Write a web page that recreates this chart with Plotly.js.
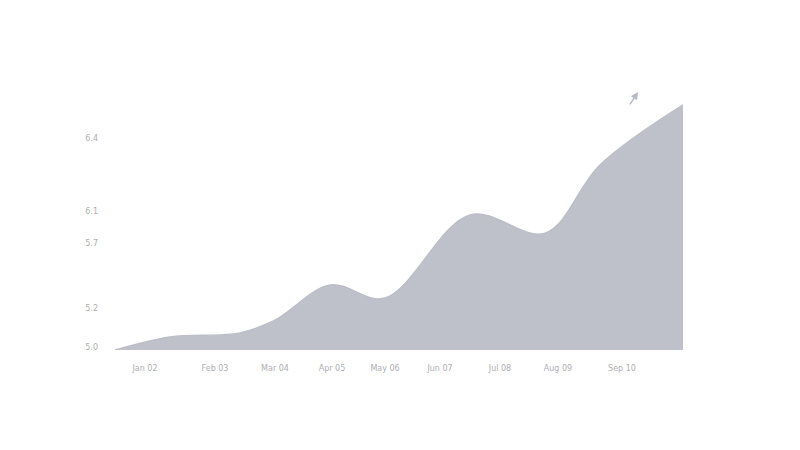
<!DOCTYPE html>
<html>
<head>
<meta charset="utf-8">
<script src="https://cdn.plot.ly/plotly-3.0.1.min.js"></script>
<style>html,body{margin:0;padding:0;background:#fff;}#chart{width:800px;height:450px;}</style>
</head>
<body>
<div id="chart"></div>
<script>
// Series (x positions and values)
const xValues = [0, 5.5, 12.5, 16, 21.5, 27, 35.5, 43, 48.5, 56.8];
const yValues = [0, 0.45, 0.59, 1.03, 2.24, 1.79, 4.66, 4.03, 6.38, 8.45];

// Tick labels (blurred in the reference; best estimates)
const xTickVals = [3, 10, 16, 21.7, 27, 32.5, 38.5, 44.3, 50.7];
const xTickText = ["Jan 02", "Feb 03", "Mar 04", "Apr 05", "May 06", "Jun 07", "Jul 08", "Aug 09", "Sep 10"];
const yTickVals = [0.1, 1.45, 3.69, 4.79, 7.31];
const yTickText = ["5.0", "5.2", "5.7", "6.1", "6.4"];

const trace = {
  x: xValues,
  y: yValues,
  type: 'scatter',
  mode: 'lines',
  line: {shape: 'spline', smoothing: 1, color: '#bcbec7', width: 1.5},
  fill: 'tozeroy',
  fillcolor: 'rgba(188,190,199,0.95)',
  hoverinfo: 'skip'
};

const layout = {
  width: 800, height: 450,
  margin: {l: 115, r: 117, t: 60, b: 100},
  paper_bgcolor: '#ffffff',
  plot_bgcolor: '#ffffff',
  showlegend: false,
  xaxis: {
    range: [0, 56.8], showgrid: false, zeroline: false, showline: false,
    tickvals: xTickVals, ticktext: xTickText, ticks: '',
    ticklabelstandoff: 12,
    tickfont: {family: 'DejaVu Sans', size: 8, color: '#adadb2'}
  },
  yaxis: {
    range: [0, 10], showgrid: false, zeroline: false, showline: false,
    tickvals: yTickVals, ticktext: yTickText, ticks: '',
    ticklabelstandoff: 16,
    tickfont: {family: 'DejaVu Sans', size: 8, color: '#adadb2'}
  },
  annotations: [{
    x: 52.3, y: 8.9, xref: 'x', yref: 'y', text: '',
    showarrow: true, arrowhead: 2, arrowsize: 1, arrowwidth: 1.5,
    arrowcolor: '#b4bac6', ax: -9, ay: 14
  }]
};

Plotly.newPlot('chart', [trace], layout, {displayModeBar: false, staticPlot: true});
</script>
</body>
</html>
